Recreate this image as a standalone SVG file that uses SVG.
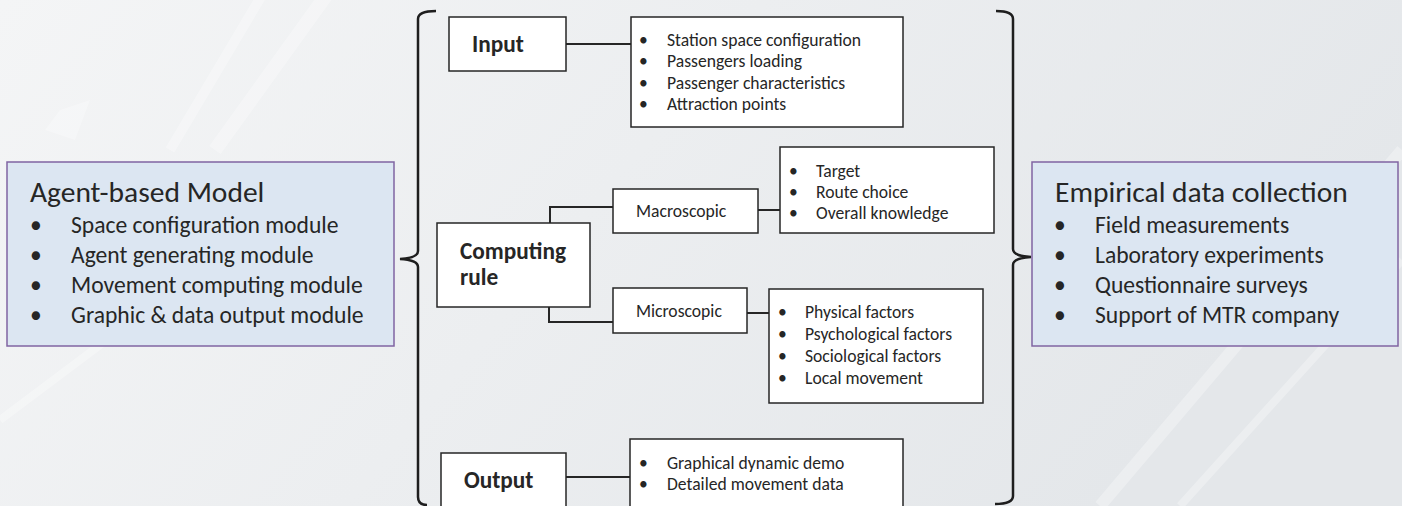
<svg xmlns="http://www.w3.org/2000/svg" width="1402" height="506" viewBox="0 0 1402 506">
<defs>
<linearGradient id="bg" x1="0" y1="0" x2="1" y2="0.3">
<stop offset="0" stop-color="#f4f5f6"/>
<stop offset="0.5" stop-color="#eceef0"/>
<stop offset="1" stop-color="#e4e7ea"/>
</linearGradient>
<style>
.t{font-family:Carlito,Lato,"Open Sans",sans-serif;fill:#262626}
.big{font-size:29.5px}
.mid{font-size:23.6px}
.sm{font-size:17.6px}
.bold{font-size:23.3px;font-weight:bold}
.blue{fill:#dce6f2;stroke:#8064a2;stroke-width:1.5}
.wb{fill:#ffffff;stroke:#262626;stroke-width:1.5}
.ln{fill:none;stroke:#262626;stroke-width:2}
.br{fill:none;stroke:#1e1e1e;stroke-width:2.5}
</style>
</defs>
<rect width="1402" height="506" fill="url(#bg)"/>
<g opacity="0.3" stroke="#ffffff" fill="none">
<path d="M170,150 L265,-10" stroke-width="10"/>
<path d="M215,150 L330,-10" stroke-width="14"/>
<path d="M60,110 L90,100 L75,140 L45,130 Z" fill="#ffffff" stroke="none"/>
<path d="M1100,506 L1402,150" stroke-width="12"/>
<path d="M1180,506 L1402,260" stroke-width="8"/>
<path d="M0,420 L120,330" stroke-width="8"/>
</g>
<g id="connectors">
<path class="br" d="M436,11 Q418,11 418,19 L418,251 Q418,258 400,259 Q418,260 418,267 L418,497 Q418,505 427,505"/>
<path class="br" d="M996,11 Q1013,11 1013,19 L1013,249 Q1013,256 1031,257 Q1013,258 1013,265 L1013,496 Q1013,504 995,504"/>
<path class="ln" d="M566,44 H631"/>
<path class="ln" d="M550,223 V207 H613"/>
<path class="ln" d="M549,306 V322 H613"/>
<path class="ln" d="M758,210 H780"/>
<path class="ln" d="M747,313 H769"/>
<path class="ln" d="M566,477 H630"/>
</g>
<g id="agent-model">
<rect class="blue" x="7" y="162" width="387" height="184"/>
<text class="t big" x="30" y="202">Agent-based Model</text>
<text class="t mid" x="30" y="233">•</text><text class="t mid" x="71" y="233">Space configuration module</text>
<text class="t mid" x="30" y="263">•</text><text class="t mid" x="71" y="263">Agent generating module</text>
<text class="t mid" x="30" y="293">•</text><text class="t mid" x="71" y="293">Movement computing module</text>
<text class="t mid" x="30" y="323">•</text><text class="t mid" x="71" y="323">Graphic &amp; data output module</text>
</g>
<g id="empirical">
<rect class="blue" x="1032" y="162" width="366" height="184"/>
<text class="t big" x="1055" y="202">Empirical data collection</text>
<text class="t mid" x="1054" y="233">•</text><text class="t mid" x="1095" y="233">Field measurements</text>
<text class="t mid" x="1054" y="263">•</text><text class="t mid" x="1095" y="263">Laboratory experiments</text>
<text class="t mid" x="1054" y="293">•</text><text class="t mid" x="1095" y="293">Questionnaire surveys</text>
<text class="t mid" x="1054" y="323">•</text><text class="t mid" x="1095" y="323">Support of MTR company</text>
</g>
<g id="input">
<rect class="wb" x="449" y="17" width="117" height="54"/>
<text class="t bold" x="472" y="52">Input</text>
</g>
<g id="input-list">
<rect class="wb" x="631" y="17" width="272" height="110"/>
<text class="t sm" x="639" y="46">•</text><text class="t sm" x="667" y="46">Station space configuration</text>
<text class="t sm" x="639" y="67">•</text><text class="t sm" x="667" y="67">Passengers loading</text>
<text class="t sm" x="639" y="89">•</text><text class="t sm" x="667" y="89">Passenger characteristics</text>
<text class="t sm" x="639" y="110">•</text><text class="t sm" x="667" y="110">Attraction points</text>
</g>
<g id="computing">
<rect class="wb" x="437" y="223" width="153" height="84"/>
<text class="t bold" x="460" y="259">Computing</text>
<text class="t bold" x="460" y="285">rule</text>
</g>
<g id="macro">
<rect class="wb" x="613" y="189" width="145" height="44"/>
<text class="t sm" x="636" y="217">Macroscopic</text>
</g>
<g id="micro">
<rect class="wb" x="613" y="288" width="134" height="45"/>
<text class="t sm" x="636" y="317">Microscopic</text>
</g>
<g id="macro-list">
<rect class="wb" x="780" y="147" width="214" height="86"/>
<text class="t sm" x="789" y="177">•</text><text class="t sm" x="816" y="177">Target</text>
<text class="t sm" x="789" y="198">•</text><text class="t sm" x="816" y="198">Route choice</text>
<text class="t sm" x="789" y="219">•</text><text class="t sm" x="816" y="219">Overall knowledge</text>
</g>
<g id="micro-list">
<rect class="wb" x="769" y="289" width="214" height="114"/>
<text class="t sm" x="778" y="318">•</text><text class="t sm" x="805" y="318">Physical factors</text>
<text class="t sm" x="778" y="340">•</text><text class="t sm" x="805" y="340">Psychological factors</text>
<text class="t sm" x="778" y="362">•</text><text class="t sm" x="805" y="362">Sociological factors</text>
<text class="t sm" x="778" y="384">•</text><text class="t sm" x="805" y="384">Local movement</text>
</g>
<g id="output">
<rect class="wb" x="441" y="453" width="125" height="70"/>
<text class="t bold" x="464" y="488">Output</text>
</g>
<g id="output-list">
<rect class="wb" x="630" y="439" width="273" height="80"/>
<text class="t sm" x="639" y="469">•</text><text class="t sm" x="667" y="469">Graphical dynamic demo</text>
<text class="t sm" x="639" y="490">•</text><text class="t sm" x="667" y="490">Detailed movement data</text>
</g>
</svg>
